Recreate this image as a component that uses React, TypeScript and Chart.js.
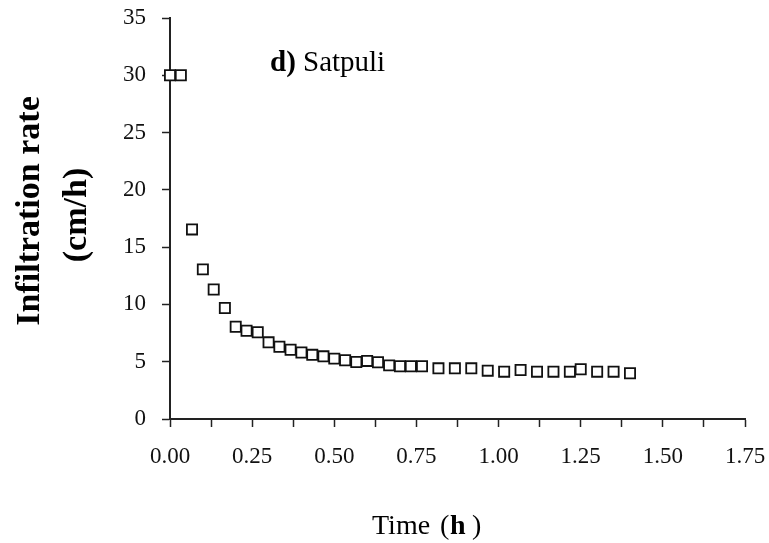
import React, { useEffect, useRef } from 'react';
import { Chart, registerables } from 'chart.js';

Chart.register(...registerables);

// Time (h)
const timeHours = [
  0, 0.033, 0.067, 0.1, 0.133, 0.167, 0.2, 0.233, 0.267, 0.3, 0.333, 0.367,
  0.4, 0.433, 0.467, 0.5, 0.533, 0.567, 0.6, 0.633, 0.667, 0.7, 0.733, 0.767,
  0.817, 0.867, 0.917, 0.967, 1.017, 1.067, 1.117, 1.167, 1.217, 1.25, 1.3,
  1.35, 1.4,
];
// Infiltration rate (cm/h)
const infiltrationRate = [
  30, 30, 16.55, 13.06, 11.3, 9.69, 8.05, 7.7, 7.57, 6.69, 6.31, 6.05,
  5.8, 5.6, 5.47, 5.27, 5.13, 4.97, 5.07, 4.95, 4.68, 4.6, 4.6, 4.6,
  4.42, 4.42, 4.42, 4.22, 4.13, 4.28, 4.13, 4.13, 4.13, 4.34, 4.13,
  4.13, 3.99,
];
const xTickLabels = ['0.00', '0.25', '0.50', '0.75', '1.00', '1.25', '1.50', '1.75'];
const yTickLabels = ['0', '5', '10', '15', '20', '25', '30', '35'];
const panelLabelBold = 'd)';
const panelLabelText = 'Satpuli';
const yTitleLine1 = 'Infiltration rate';
const yTitleLine2 = '(cm/h)';
const xTitleText = 'Time';
const xTitleUnit = 'h';

const SERIF = '"Liberation Serif", "Times New Roman", serif';

const textPlugin = {
  id: 'customTexts',
  afterDraw(chart: any) {
    const ctx = chart.ctx as CanvasRenderingContext2D;
    ctx.save();
    ctx.fillStyle = '#000';
    ctx.textBaseline = 'alphabetic';

    // panel label
    ctx.textAlign = 'left';
    ctx.font = `bold 29px ${SERIF}`;
    ctx.fillText(panelLabelBold, 270, 71);
    ctx.font = `29px ${SERIF}`;
    ctx.fillText(panelLabelText, 303, 71);

    // x title
    ctx.font = `28px ${SERIF}`;
    ctx.fillText(xTitleText, 372, 534);
    ctx.fillText('(', 440, 534);
    ctx.font = `bold 28px ${SERIF}`;
    ctx.fillText(xTitleUnit, 450, 534);
    ctx.font = `28px ${SERIF}`;
    ctx.fillText(')', 472, 534);

    // y title (rotated)
    ctx.textAlign = 'center';
    ctx.textBaseline = 'middle';
    ctx.translate(30, 211);
    ctx.rotate(-Math.PI / 2);
    ctx.font = `bold 34px ${SERIF}`;
    ctx.fillText(yTitleLine1, 0, 0);
    ctx.restore();

    ctx.save();
    ctx.fillStyle = '#000';
    ctx.textAlign = 'center';
    ctx.textBaseline = 'middle';
    ctx.translate(77, 215);
    ctx.rotate(-Math.PI / 2);
    ctx.font = `bold 34px ${SERIF}`;
    ctx.fillText(yTitleLine2, 0, 0);
    ctx.restore();
  },
};

export default function App() {
  const ref = useRef<HTMLCanvasElement | null>(null);

  useEffect(() => {
    document.body.style.margin = '0';
    const canvas = ref.current;
    if (!canvas) return;
    const points = timeHours.map((t, i) => ({ x: t, y: infiltrationRate[i] }));
    const chart = new Chart(canvas, {
      type: 'scatter',
      data: {
        datasets: [
          {
            data: points,
            pointStyle: 'rect',
            pointRadius: 7.2,
            pointHoverRadius: 7.2,
            pointBorderWidth: 1.8,
            pointBorderColor: '#111',
            pointBackgroundColor: '#fff',
            clip: false as any,
          },
        ],
      },
      options: {
        animation: false,
        responsive: false,
        devicePixelRatio: 1,
        layout: { padding: { left: 0, right: 24, top: 18, bottom: 0 } },
        plugins: {
          legend: { display: false },
          tooltip: { enabled: false },
          title: { display: false },
        },
        scales: {
          x: {
            type: 'linear',
            min: 0,
            max: 1.75,
            afterFit: (s: any) => {
              s.height = 124;
              s.paddingLeft = 0;
              s.paddingRight = 0;
            },
            border: { display: true, color: '#222', width: 2 },
            grid: {
              drawOnChartArea: false,
              drawTicks: true,
              tickLength: 8,
              tickColor: '#222',
              tickWidth: 1.5,
            },
            ticks: {
              stepSize: 0.125,
              autoSkip: false,
              maxRotation: 0,
              padding: 16,
              color: '#111',
              font: { family: SERIF, size: 23 },
              callback: (_v: any, i: number) => (i % 2 === 0 ? xTickLabels[i / 2] : ''),
            },
          },
          y: {
            type: 'linear',
            min: 0,
            max: 35,
            afterFit: (s: any) => {
              s.width = 170;
              s.paddingTop = 0;
              s.paddingBottom = 0;
            },
            border: { display: true, color: '#222', width: 2 },
            grid: {
              drawOnChartArea: false,
              drawTicks: true,
              tickLength: 8,
              tickColor: '#222',
              tickWidth: 1.5,
            },
            ticks: {
              stepSize: 5,
              padding: 16,
              color: '#111',
              font: { family: SERIF, size: 23 },
              callback: (_v: any, i: number) => yTickLabels[i],
            },
          },
        },
      },
      plugins: [textPlugin],
    });
    return () => chart.destroy();
  }, []);

  return (
    <div style={{ position: 'absolute', left: 0, top: 0, width: 769, height: 543, background: '#fff' }}>
      <canvas ref={ref} width={769} height={543} style={{ display: 'block' }} />
    </div>
  );
}
